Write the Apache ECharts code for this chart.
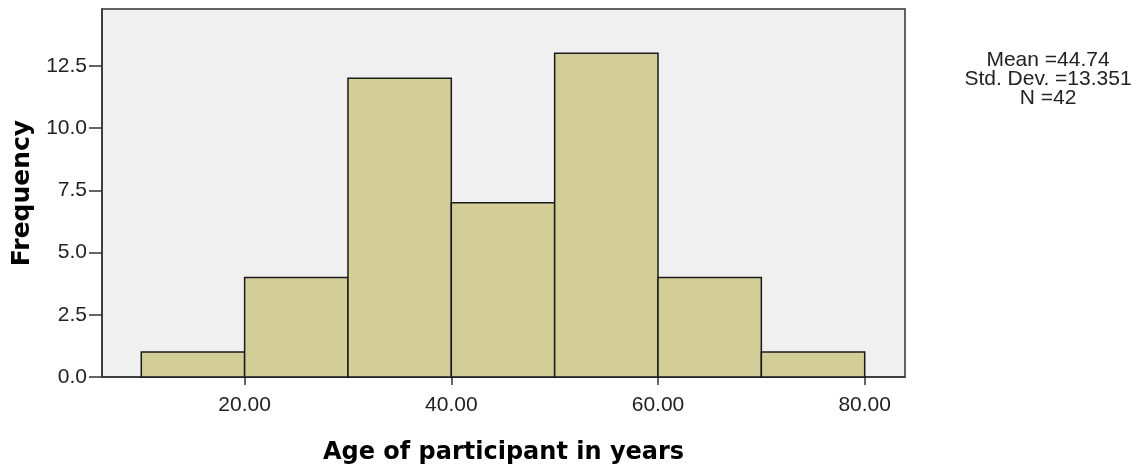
<!DOCTYPE html>
<html>
<head>
<meta charset="utf-8">
<script src="https://cdn.jsdelivr.net/npm/echarts@6/dist/echarts.min.js"></script>
<style>
html,body{margin:0;padding:0;background:#fff;}
#chart{width:1139px;height:470px;}
</style>
</head>
<body>
<div id="chart"></div>
<script>
// Histogram bins (age in years) and frequencies
const binStarts = [10, 20, 30, 40, 50, 60, 70];
const binEnds   = [20, 30, 40, 50, 60, 70, 80];
const counts    = [1, 4, 12, 7, 13, 4, 1];
const xTicks = [20, 40, 60, 80];
const yTicks = [0, 2.5, 5, 7.5, 10, 12.5];
const statLines = ['Mean =44.74', 'Std. Dev. =13.351', 'N =42'];
const xTitle = 'Age of participant in years';
const yTitle = 'Frequency';

const data = binStarts.map((s, i) => [s, binEnds[i], counts[i]]);

const chart = echarts.init(document.getElementById('chart'));
chart.setOption({
  animation: false,
  grid: {
    left: 102, right: 234, top: 9, bottom: 93,
    show: true, backgroundColor: '#f0f0f0', borderColor: '#333', borderWidth: 1.5
  },
  xAxis: {
    type: 'value', min: 6.2, max: 83.9,
    splitLine: { show: false },
    axisLine: { show: true, onZero: false, lineStyle: { color: '#333', width: 1.5 } },
    axisTick: { show: true, length: 8, customValues: xTicks, lineStyle: { color: '#333', width: 1.5 } },
    axisLabel: {
      customValues: xTicks, margin: 18, color: '#222',
      fontFamily: 'Liberation Sans', fontSize: 21,
      formatter: v => v.toFixed(2)
    },
    name: xTitle, nameLocation: 'middle', nameGap: 64,
    nameTextStyle: { fontFamily: 'DejaVu Sans', fontWeight: 'bold', fontSize: 24, color: '#000' }
  },
  yAxis: {
    type: 'value', min: 0, max: 14.78,
    splitLine: { show: false },
    axisLine: { show: true, lineStyle: { color: '#333', width: 1.5 } },
    axisTick: { show: true, length: 13, customValues: yTicks, lineStyle: { color: '#333', width: 1.5 } },
    axisLabel: {
      customValues: yTicks, margin: 15, color: '#222',
      fontFamily: 'Liberation Sans', fontSize: 21,
      formatter: v => v.toFixed(1)
    },
    name: yTitle, nameLocation: 'middle', nameGap: 66,
    nameTextStyle: { fontFamily: 'DejaVu Sans', fontWeight: 'bold', fontSize: 25, color: '#000' }
  },
  series: [{
    type: 'custom',
    data: data,
    encode: { x: [0, 1], y: 2 },
    renderItem: function (params, api) {
      const p0 = api.coord([api.value(0), 0]);
      const p1 = api.coord([api.value(1), api.value(2)]);
      return {
        type: 'rect',
        shape: { x: p0[0], y: p1[1], width: p1[0] - p0[0], height: p0[1] - p1[1] },
        style: { fill: '#d3ce97', stroke: '#1a1a1a', lineWidth: 1.5 }
      };
    }
  }],
  graphic: [{
    type: 'text', x: 1048, y: 51,
    style: {
      text: statLines.join('\n'), align: 'center', verticalAlign: 'top',
      fontFamily: 'Liberation Sans', fontSize: 21, lineHeight: 19, fill: '#222'
    }
  }]
});
</script>
</body>
</html>
